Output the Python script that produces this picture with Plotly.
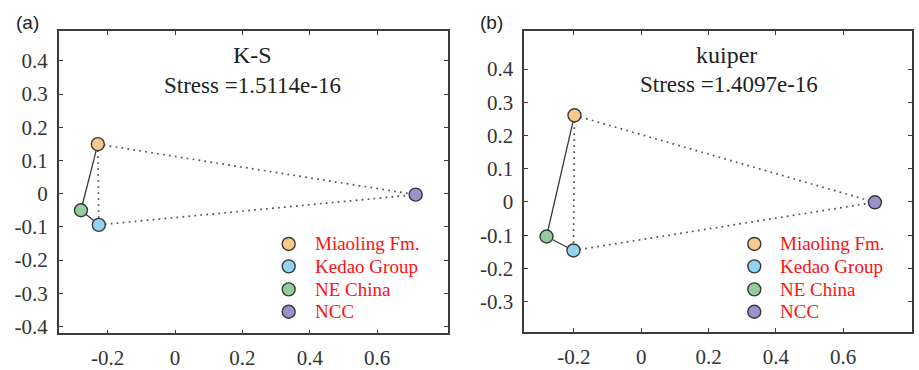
import plotly.graph_objects as go

# MDS coordinates of the four sample groups
groups = ["Miaoling Fm.", "Kedao Group", "NE China", "NCC"]
colors = ["#F8C98C", "#93D3F1", "#94CD9C", "#9D91CD"]

ks_x = [-0.229, -0.226, -0.279, 0.714]
ks_y = [0.149, -0.094, -0.050, -0.003]
kp_x = [-0.198, -0.201, -0.281, 0.694]
kp_y = [0.261, -0.146, -0.104, -0.001]

# pairs of group indices joined by solid / dotted segments
solid_pairs = [(0, 2), (2, 1)]
dotted_pairs = [(0, 1), (0, 3), (1, 3)]

x_ticks = [-0.2, 0, 0.2, 0.4, 0.6]
x_ticktext = ["-0.2", "0", "0.2", "0.4", "0.6"]
ks_yticks = [-0.4, -0.3, -0.2, -0.1, 0, 0.1, 0.2, 0.3, 0.4]
ks_yticktext = ["-0.4", "-0.3", "-0.2", "-0.1", "0", "0.1", "0.2", "0.3", "0.4"]
kp_yticks = [-0.3, -0.2, -0.1, 0, 0.1, 0.2, 0.3, 0.4]
kp_yticktext = ["-0.3", "-0.2", "-0.1", "0", "0.1", "0.2", "0.3", "0.4"]

W, H = 919, 370

panels = [
    dict(name="K-S", stress="Stress =1.5114e-16", tag="(a)", x=ks_x, y=ks_y,
         xa="x", ya="y", title_cx=0.499, stress_cx=0.497, tag_px=27, key_px=288.7),
    dict(name="kuiper", stress="Stress =1.4097e-16", tag="(b)", x=kp_x, y=kp_y,
         xa="x2", ya="y2", title_cx=0.52, stress_cx=0.528, tag_px=492, key_px=754.3),
]

SERIF = "'Liberation Serif', 'Times New Roman', serif"
SANS = "'Liberation Sans', Arial, sans-serif"
FRAME = "#3c3c3c"
EDGE = "#3a3a3a"

fig = go.Figure()

for p in panels:
    for i, j in solid_pairs:
        fig.add_trace(go.Scatter(
            x=[p["x"][i], p["x"][j]], y=[p["y"][i], p["y"][j]],
            mode="lines", line=dict(color=EDGE, width=1.3),
            xaxis=p["xa"], yaxis=p["ya"], showlegend=False, hoverinfo="skip"))
    for i, j in dotted_pairs:
        fig.add_trace(go.Scatter(
            x=[p["x"][i], p["x"][j]], y=[p["y"][i], p["y"][j]],
            mode="lines", line=dict(color="#505050", width=1.7, dash="1.7px,4.3px"),
            xaxis=p["xa"], yaxis=p["ya"], showlegend=False, hoverinfo="skip"))
    for k, g in enumerate(groups):
        fig.add_trace(go.Scatter(
            x=[p["x"][k]], y=[p["y"][k]], mode="markers", name=g,
            marker=dict(size=13, color=colors[k], line=dict(color=EDGE, width=1.4)),
            xaxis=p["xa"], yaxis=p["ya"], showlegend=False))

axis_common = dict(
    showline=True, mirror="ticks", linecolor=FRAME, linewidth=1.6,
    ticks="inside", ticklen=4, tickwidth=1, tickcolor=FRAME,
    showgrid=False, zeroline=False,
    tickfont=dict(family=SERIF, size=21, color="#333333"),
)

fig.update_layout(
    width=W, height=H,
    margin=dict(l=0, r=0, t=0, b=0),
    paper_bgcolor="white", plot_bgcolor="white",
    showlegend=False,
    xaxis=dict(domain=[0.0639, 0.4875], range=[-0.345, 0.81],
               tickvals=x_ticks, ticktext=x_ticktext, anchor="y",
               ticklabelstandoff=5, **axis_common),
    yaxis=dict(domain=[0.0865, 0.9143], range=[-0.421, 0.489],
               tickvals=ks_yticks, ticktext=ks_yticktext, anchor="x",
               ticklabelstandoff=5, **axis_common),
    xaxis2=dict(domain=[0.5705, 0.9927], range=[-0.347, 0.805],
                tickvals=x_ticks, ticktext=x_ticktext, anchor="y2",
                ticklabelstandoff=5, **axis_common),
    yaxis2=dict(domain=[0.09, 0.9143], range=[-0.392, 0.514],
                tickvals=kp_yticks, ticktext=kp_yticktext, anchor="x2",
                ticklabelstandoff=5, **axis_common),
)

# key rows (pixel offsets from the top of the figure)
key_rows_px = [247.3, 270.0, 293.3, 316.0]
key_radius = 6.5
key_text_gap = 24

for p in panels:
    xd = p["xa"] + " domain"
    yd = p["ya"] + " domain"
    # panel titles and stress values
    fig.add_annotation(text=p["name"], xref=xd, yref=yd, x=p["title_cx"], y=0.92,
                       showarrow=False, xanchor="center", yanchor="middle",
                       font=dict(family=SERIF, size=24, color="#222222"))
    fig.add_annotation(text=p["stress"], xref=xd, yref=yd, x=p["stress_cx"], y=0.822,
                       showarrow=False, xanchor="center", yanchor="middle",
                       font=dict(family=SERIF, size=23, color="#222222"))
    # panel tag
    fig.add_annotation(text=p["tag"], xref="paper", yref="paper",
                       x=p["tag_px"] / W, y=(H - 23) / H,
                       showarrow=False, xanchor="center", yanchor="middle",
                       font=dict(family=SANS, size=19, color="#222222"))
    # group key: circle + red label
    for k, g in enumerate(groups):
        yk = (H - key_rows_px[k]) / H
        fig.add_shape(type="circle", xref="paper", yref="paper",
                      xsizemode="pixel", ysizemode="pixel",
                      xanchor=p["key_px"] / W, yanchor=yk,
                      x0=-key_radius, x1=key_radius, y0=-key_radius, y1=key_radius,
                      fillcolor=colors[k], line=dict(color=EDGE, width=1.4))
        fig.add_annotation(text=g, xref="paper", yref="paper",
                           x=(p["key_px"] + key_text_gap) / W, y=yk,
                           showarrow=False, xanchor="left", yanchor="middle",
                           font=dict(family=SERIF, size=19, color="#FF1010"))

fig.write_html("out.html")
